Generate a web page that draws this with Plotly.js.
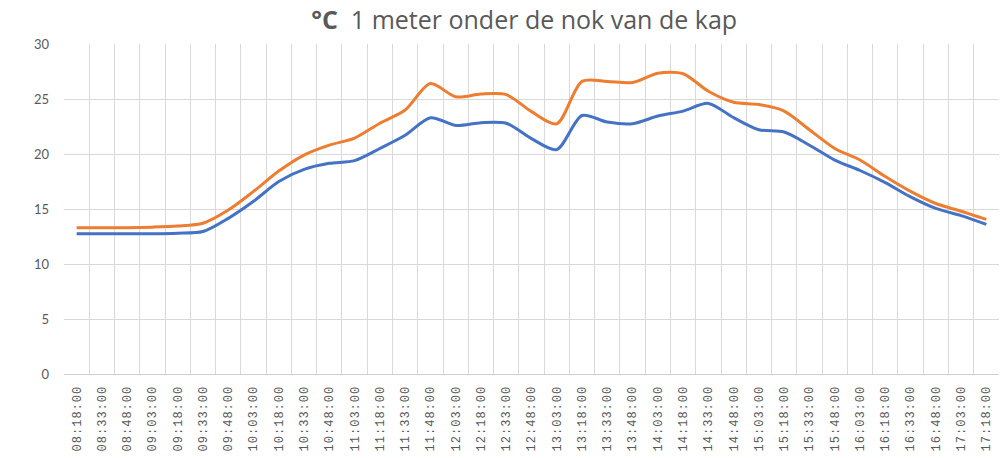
<!DOCTYPE html>
<html>
<head>
<meta charset="utf-8">
<script src="https://cdn.plot.ly/plotly-3.0.1.min.js"></script>
<style>
html,body{margin:0;padding:0;background:#fff;}
#chart{width:1008px;height:458px;}
.xtick text{letter-spacing:1px;}
</style>
</head>
<body>
<div id="chart"></div>
<script>
const times = ["08:18:00","08:33:00","08:48:00","09:03:00","09:18:00","09:33:00","09:48:00","10:03:00","10:18:00","10:33:00","10:48:00","11:03:00","11:18:00","11:33:00","11:48:00","12:03:00","12:18:00","12:33:00","12:48:00","13:03:00","13:18:00","13:33:00","13:48:00","14:03:00","14:18:00","14:33:00","14:48:00","15:03:00","15:18:00","15:33:00","15:48:00","16:03:00","16:18:00","16:33:00","16:48:00","17:03:00","17:18:00"];
const blueSeries = [12.75,12.75,12.75,12.75,12.8,12.95,14.15,15.7,17.5,18.6,19.15,19.4,20.5,21.7,23.3,22.6,22.85,22.8,21.4,20.4,23.5,22.9,22.75,23.45,23.9,24.6,23.3,22.2,22.0,20.8,19.45,18.5,17.4,16.1,15.05,14.4,13.6];
const orangeSeries = [13.3,13.3,13.3,13.35,13.45,13.7,14.9,16.6,18.45,19.9,20.8,21.45,22.8,24.0,26.4,25.2,25.45,25.4,23.85,22.75,26.6,26.6,26.5,27.35,27.3,25.7,24.7,24.5,23.9,22.2,20.5,19.45,17.95,16.6,15.5,14.8,14.05];
const yTicks = [0,5,10,15,20,25,30];

const traces = [
  {x: times, y: blueSeries, type: "scatter", mode: "lines", name: "blauw",
   line: {color: "#4472C4", width: 3, shape: "spline", smoothing: 0.8}},
  {x: times, y: orangeSeries, type: "scatter", mode: "lines", name: "oranje",
   line: {color: "#ED7D31", width: 3, shape: "spline", smoothing: 0.8}}
];

const layout = {
  width: 1008, height: 458,
  margin: {l: 64, r: 9, t: 44, b: 84},
  paper_bgcolor: "#ffffff", plot_bgcolor: "#ffffff",
  showlegend: false,
  title: {text: "<b>°C</b>\u00a0\u00a01 meter onder de nok van de kap",
          font: {family: "'Open Sans', Lato, sans-serif", size: 25, color: "#595959"},
          x: 0.52, xanchor: "center", y: 0.955, yanchor: "middle"},
  xaxis: {type: "category", range: [-0.5, times.length - 0.5], tickangle: -90, tickson: "boundaries",
          showgrid: true, gridcolor: "#d9d9d9", gridwidth: 1,
          showline: true, linecolor: "#d0d0d0", linewidth: 1, mirror: false,
          ticks: "", ticklabelstandoff: 6,
          tickfont: {family: "'Liberation Mono', monospace", size: 12, color: "#595959"},
          fixedrange: true},
  yaxis: {range: [0, 30], tickvals: yTicks, ticktext: yTicks.map(String),
          showgrid: true, gridcolor: "#d9d9d9", gridwidth: 1,
          zeroline: false, showline: false, ticks: "", ticklabelstandoff: 14,
          tickfont: {family: "Lato, 'Open Sans', sans-serif", size: 13, color: "#595959"},
          fixedrange: true}
};

Plotly.newPlot("chart", traces, layout, {displayModeBar: false, staticPlot: true});
</script>
</body>
</html>
